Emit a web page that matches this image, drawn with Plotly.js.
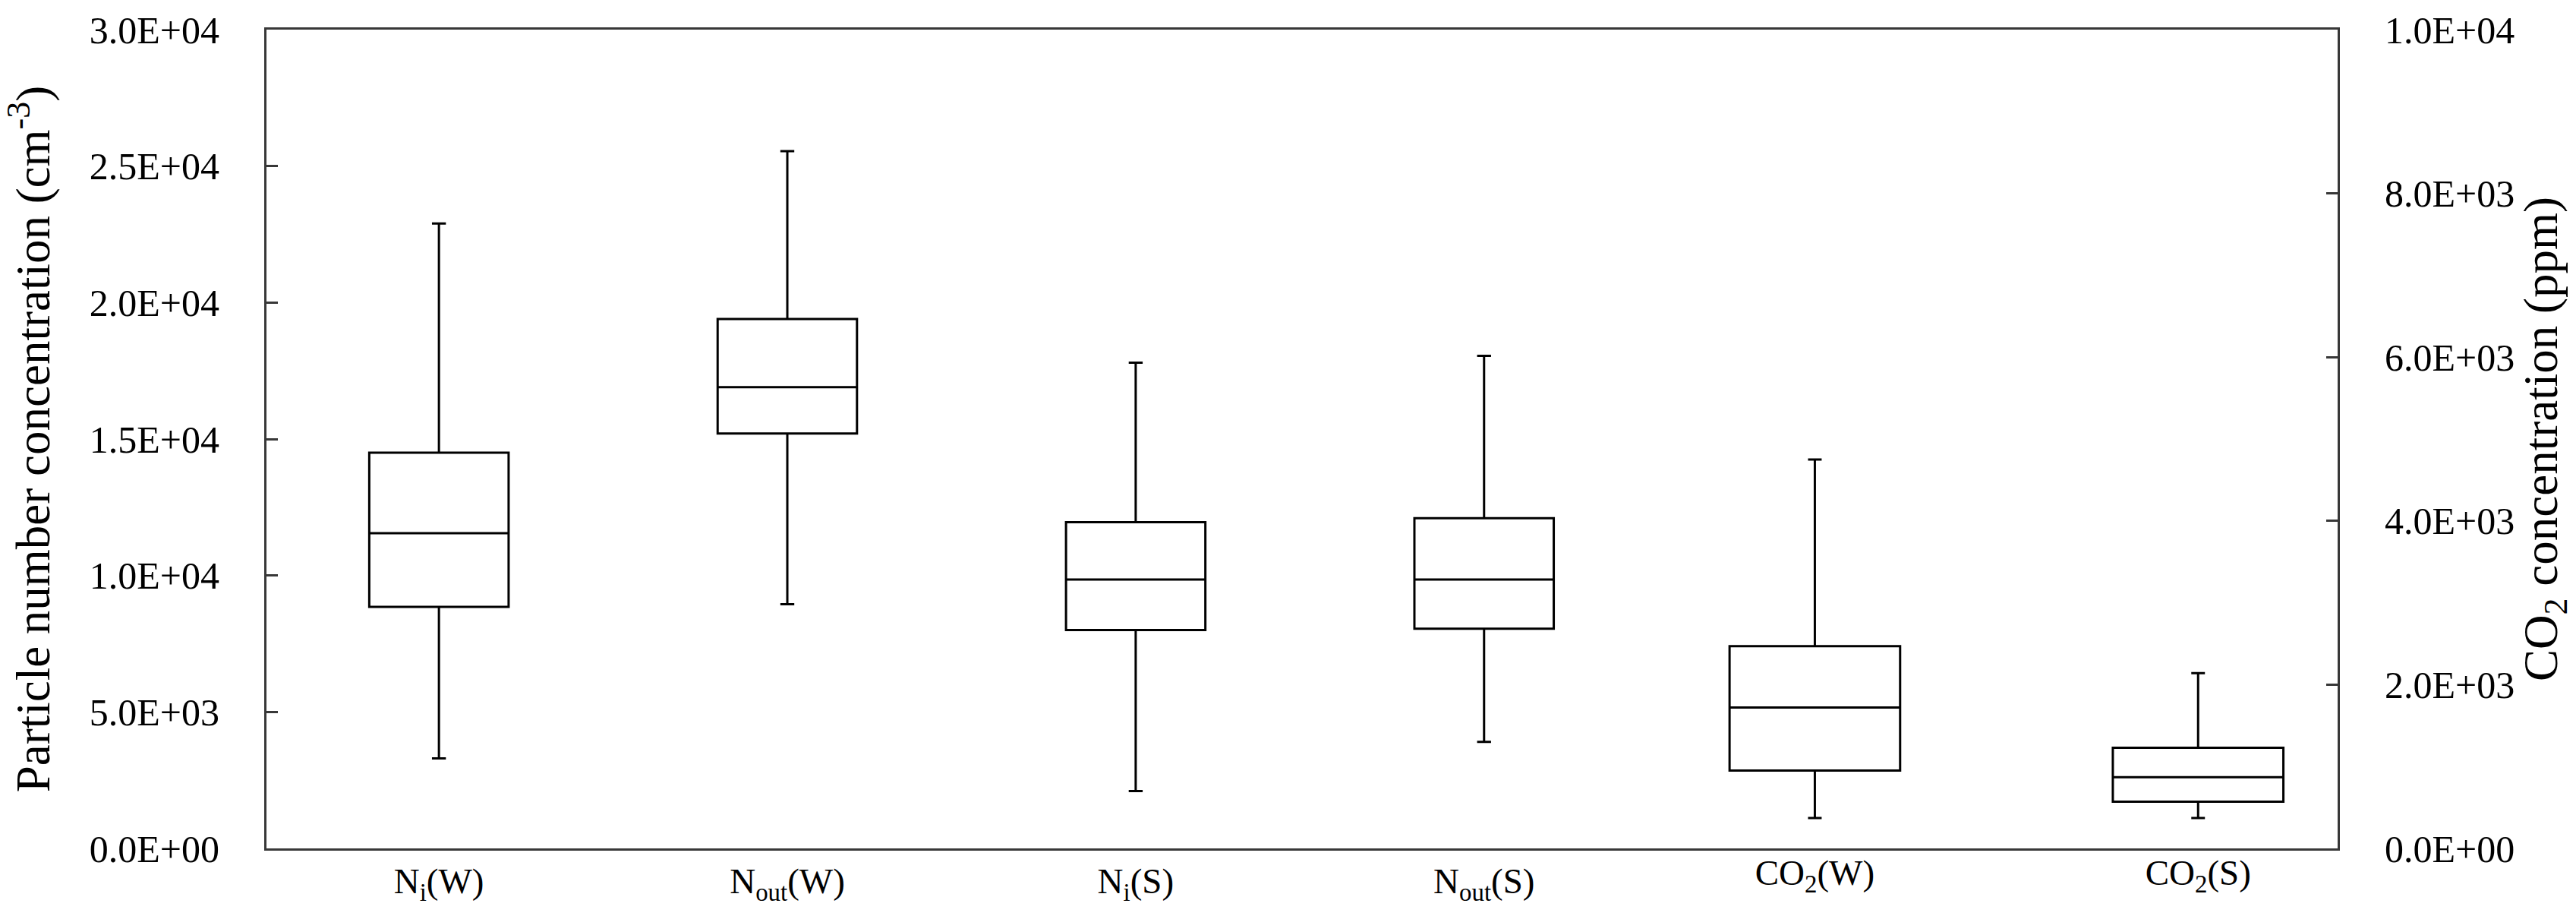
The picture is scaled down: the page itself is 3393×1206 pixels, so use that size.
<!DOCTYPE html>
<html>
<head>
<meta charset="utf-8">
<script src="https://cdn.plot.ly/plotly-3.0.1.min.js"></script>
<style>
  html, body { margin: 0; padding: 0; background: #fff; }
  #chart { width: 3393px; height: 1206px; }
</style>
</head>
<body>
<div id="chart"></div>
<script>
// particle number concentration (cm-3), left axis, bottom category axis
const particleCats = ['Ni(W)', 'Nout(W)', 'Ni(S)', 'Nout(S)'];
const particleLabels = ['N<sub>i</sub>(W)', 'N<sub>out</sub>(W)', 'N<sub>i</sub>(S)', 'N<sub>out</sub>(S)'];
const particleMin = [3300, 8950, 2100, 3900];
const particleQ1 = [8850, 15200, 8000, 8050];
const particleMedian = [11550, 16900, 9850, 9850];
const particleQ3 = [14500, 19400, 11950, 12100];
const particleMax = [22900, 25550, 17800, 18050];

// CO2 concentration (ppm), right axis, its own overlaid category axis
const co2Cats = ['CO2(W)', 'CO2(S)'];
const co2Labels = ['CO<sub>2</sub>(W)', 'CO<sub>2</sub>(S)'];
const co2Min = [370, 370];
const co2Q1 = [950, 570];
const co2Median = [1720, 870];
const co2Q3 = [2470, 1230];
const co2Max = [4750, 2140];

// tick labels
const leftTickVals = [0, 5000, 10000, 15000, 20000, 25000, 30000];
const leftTickText = ['0.0E+00', '5.0E+03', '1.0E+04', '1.5E+04', '2.0E+04', '2.5E+04', '3.0E+04'];
const rightTickVals = [0, 2000, 4000, 6000, 8000, 10000];
const rightTickText = ['0.0E+00', '2.0E+03', '4.0E+03', '6.0E+03', '8.0E+03', '1.0E+04'];

const FONT = 'Liberation Serif, Times New Roman, serif';
const AXIS_COLOR = '#383838';
const TICK_SIZE = 50;
const CAT_SIZE = 47;
const TITLE_SIZE = 63;

const boxStyle = {
    type: 'box',
    line: { color: '#000000', width: 3 },
    fillcolor: 'rgba(255,255,255,0)',
    boxpoints: false,
    showlegend: false,
    hoverinfo: 'skip'
};

const particleTrace = Object.assign({}, boxStyle, {
    x: particleCats,
    q1: particleQ1,
    median: particleMedian,
    q3: particleQ3,
    lowerfence: particleMin,
    upperfence: particleMax,
    width: 0.40,
    whiskerwidth: 0.1,
    xaxis: 'x',
    yaxis: 'y'
});

const co2Trace = Object.assign({}, boxStyle, {
    x: co2Cats,
    q1: co2Q1,
    median: co2Median,
    q3: co2Q3,
    lowerfence: co2Min,
    upperfence: co2Max,
    width: 0.445,
    whiskerwidth: 0.08,
    xaxis: 'x2',
    yaxis: 'y2'
});

const catAxis = {
    type: 'category',
    ticks: '',
    showgrid: false,
    zeroline: false,
    ticklabelstandoff: 0,
    tickfont: { family: FONT, size: CAT_SIZE, color: '#000000' }
};

const valueAxis = {
    ticks: 'inside',
    ticklen: 15,
    tickwidth: 3,
    tickcolor: AXIS_COLOR,
    showline: true,
    linecolor: AXIS_COLOR,
    linewidth: 3,
    showgrid: false,
    zeroline: false,
    tickfont: { family: FONT, size: TICK_SIZE, color: '#000000' }
};

const layout = {
    width: 3393,
    height: 1206,
    margin: { l: 351, r: 314, t: 39, b: 89 },
    paper_bgcolor: '#ffffff',
    plot_bgcolor: '#ffffff',
    font: { family: FONT, color: '#000000', size: TICK_SIZE },
    boxmode: 'overlay',
    xaxis: Object.assign({}, catAxis, {
        categoryorder: 'array',
        categoryarray: particleCats,
        tickvals: particleCats,
        ticktext: particleLabels,
        range: [-0.495, 5.45],
        showline: true,
        linecolor: AXIS_COLOR,
        linewidth: 3,
        mirror: true
    }),
    xaxis2: Object.assign({}, catAxis, {
        overlaying: 'x',
        side: 'bottom',
        categoryorder: 'array',
        categoryarray: co2Cats,
        tickvals: co2Cats,
        ticktext: co2Labels,
        range: [-4.04, 1.364],
        showline: false
    }),
    yaxis: Object.assign({}, valueAxis, {
        range: [0, 30000],
        tickvals: leftTickVals,
        ticktext: leftTickText,
        ticklabelstandoff: 49,
        title: {
            text: 'Particle number concentration (cm<sup>-3</sup>)',
            font: { family: FONT, size: TITLE_SIZE, color: '#000000' },
            standoff: 38
        }
    }),
    yaxis2: Object.assign({}, valueAxis, {
        overlaying: 'y',
        side: 'right',
        range: [0, 10000],
        tickvals: rightTickVals,
        ticktext: rightTickText,
        ticklabelstandoff: 49,
        title: {
            text: 'CO<sub>2</sub> concentration (ppm)',
            font: { family: FONT, size: TITLE_SIZE, color: '#000000' },
            standoff: 12
        }
    })
};

Plotly.newPlot('chart', [particleTrace, co2Trace], layout, { staticPlot: true, displayModeBar: false });
</script>
</body>
</html>
